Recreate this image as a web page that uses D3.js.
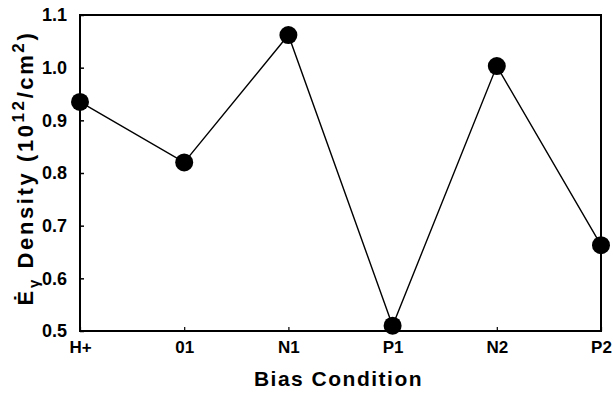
<!DOCTYPE html>
<html>
<head>
<meta charset="utf-8">
<script src="https://cdn.jsdelivr.net/npm/d3@7"></script>
<style>
  body { margin: 0; background: #fff; }
  svg { display: block; font-family: "Liberation Sans", Arial, sans-serif; }
</style>
</head>
<body>
<div id="chart"></div>
<script>
// bias conditions and measured E' density
const categories = ["H+", "01", "N1", "P1", "N2", "P2"];
const densities = [0.935, 0.82, 1.062, 0.51, 1.003, 0.663];
const yTicks = [0.5, 0.6, 0.7, 0.8, 0.9, 1.0, 1.1];

const width = 613, height = 394;
const margin = {top: 15, right: 12, bottom: 63, left: 80};
const plotW = width - margin.left - margin.right;
const plotH = height - margin.top - margin.bottom;

const svg = d3.select("#chart").append("svg")
    .attr("width", width)
    .attr("height", height);

const g = svg.append("g")
    .attr("transform", `translate(${margin.left},${margin.top})`);

const x = d3.scalePoint()
    .domain(categories)
    .range([0, plotW]);

const y = d3.scaleLinear()
    .domain([0.5, 1.1])
    .range([plotH, 0]);

// frame
g.append("rect")
    .attr("width", plotW)
    .attr("height", plotH)
    .attr("fill", "none")
    .attr("stroke", "#000")
    .attr("stroke-width", 2);

// y axis, ticks pointing inside
const yAxis = g.append("g")
    .call(d3.axisLeft(y).tickValues(yTicks).tickFormat(d3.format(".1f")).tickSizeInner(-4).tickSizeOuter(0).tickPadding(13));
yAxis.select(".domain").remove();
yAxis.selectAll("line").attr("stroke-width", 1.5);
yAxis.selectAll("text")
    .attr("font-size", 18)
    .attr("font-weight", "bold")
    .attr("fill", "#000")
    .attr("font-family", "Liberation Sans, Arial, sans-serif");

// x axis
const xAxis = g.append("g")
    .attr("transform", `translate(0,${plotH})`)
    .call(d3.axisBottom(x).tickSizeInner(-4).tickSizeOuter(0).tickPadding(10));
xAxis.select(".domain").remove();
xAxis.selectAll("line").attr("stroke-width", 1.2);
xAxis.selectAll("text")
    .attr("font-size", 17)
    .attr("font-weight", "bold")
    .attr("fill", "#000")
    .attr("font-family", "Liberation Sans, Arial, sans-serif");

// line + markers
const line = d3.line()
    .x((d, i) => x(categories[i]))
    .y(d => y(d));

g.append("path")
    .datum(densities)
    .attr("d", line)
    .attr("fill", "none")
    .attr("stroke", "#000")
    .attr("stroke-width", 1.4);

g.selectAll("circle")
    .data(densities)
    .enter().append("circle")
    .attr("cx", (d, i) => x(categories[i]))
    .attr("cy", d => y(d))
    .attr("r", 9)
    .attr("fill", "#000");

// axis titles
svg.append("text")
    .attr("x", margin.left + plotW / 2 - 2)
    .attr("y", 386)
    .attr("text-anchor", "middle")
    .attr("font-size", 21)
    .attr("font-weight", "bold")
    .attr("letter-spacing", 1.5)
    .text("Bias Condition");

const yTitle = svg.append("text")
    .attr("transform", "translate(33,168) rotate(-90)")
    .attr("text-anchor", "middle")
    .attr("font-size", 22)
    .attr("font-weight", "bold")
    .attr("letter-spacing", 2.6);
yTitle.append("tspan").text("E\u0307");
yTitle.append("tspan").attr("font-size", 15).attr("dy", 6).text("\u03b3");
yTitle.append("tspan").attr("dy", -6).text(" Density (10");
yTitle.append("tspan").attr("font-size", 17).attr("dy", -9).text("12");
yTitle.append("tspan").attr("dy", 9).text("/cm");
yTitle.append("tspan").attr("font-size", 17).attr("dy", -9).text("2");
yTitle.append("tspan").attr("dy", 9).text(")");
</script>
</body>
</html>
